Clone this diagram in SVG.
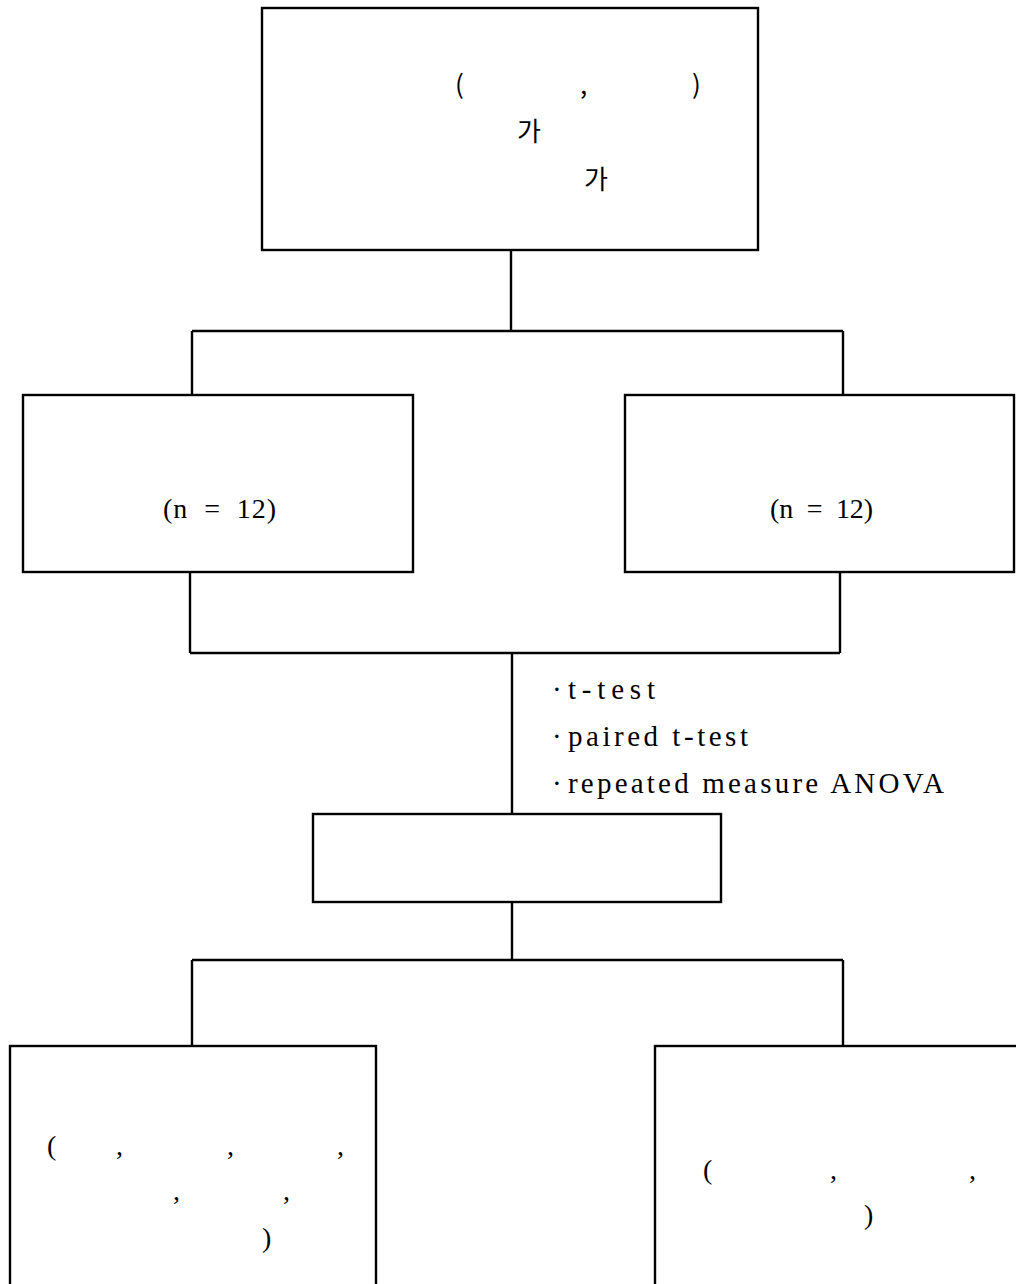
<svg xmlns="http://www.w3.org/2000/svg" width="1016" height="1284" viewBox="0 0 1016 1284">
<style>
.box{fill:#fff;stroke:#000;stroke-width:2.4}
.ln{stroke:#000;stroke-width:2.4;fill:none}
.s{font-family:"Liberation Serif","Times New Roman",serif;font-size:28px;fill:#000}
.k{font-family:"Noto Sans CJK KR","Noto Sans",sans-serif;font-size:26px;fill:#000}
.l{font-family:"Liberation Serif","Times New Roman",serif;font-size:29px;fill:#000}
</style>
<rect width="1016" height="1284" fill="#fff"/>
<g id="connectors">
<path class="ln" d="M511,250V331 M192,331H843 M192,331V395 M843,331V395"/>
<path class="ln" d="M190,572V653 M840,572V653 M190,653H840 M512,653V814"/>
<path class="ln" d="M512,902V960 M192,960H843 M192,960V1046 M843,960V1046"/>
<g id="stats-label">
<text class="l" x="552" y="699">·</text>
<text class="l" x="568" y="699" textLength="87" lengthAdjust="spacing">t-test</text>
<text class="l" x="552" y="746">·</text>
<text class="l" x="568" y="746" textLength="180" lengthAdjust="spacing">paired t-test</text>
<text class="l" x="552" y="793">·</text>
<text class="l" x="568" y="793" textLength="376" lengthAdjust="spacing">repeated measure ANOVA</text>
</g>
</g>
<g id="top">
<rect class="box" x="262" y="8" width="496" height="242"/>
<text class="k" x="455" y="94">(</text>
<text class="k" x="580" y="94">,</text>
<text class="k" x="692" y="94">)</text>
<text class="k" x="517" y="141">가</text>
<text class="k" x="584" y="189">가</text>
</g>
<g id="group-left">
<rect class="box" x="23" y="395" width="390" height="177"/>
<text class="s" x="163" y="518" textLength="113" lengthAdjust="spacing" xml:space="preserve">(n  =  12)</text>
</g>
<g id="group-right">
<rect class="box" x="625" y="395" width="389" height="177"/>
<text class="s" x="770" y="518" textLength="103" lengthAdjust="spacing" xml:space="preserve">(n  =  12)</text>
</g>
<g id="middle">
<rect class="box" x="313" y="814" width="408" height="88"/>
</g>
<g id="bottom-left">
<rect class="box" x="10" y="1046" width="366" height="260"/>
<text class="s" x="47" y="1155">(</text>
<text class="s" x="116" y="1155">,</text>
<text class="s" x="227" y="1155">,</text>
<text class="s" x="337" y="1155">,</text>
<text class="s" x="173" y="1200">,</text>
<text class="s" x="283" y="1200">,</text>
<text class="s" x="262" y="1247">)</text>
</g>
<g id="bottom-right">
<rect class="box" x="655" y="1046" width="400" height="260"/>
<text class="s" x="703" y="1179">(</text>
<text class="s" x="830" y="1179">,</text>
<text class="s" x="969" y="1179">,</text>
<text class="s" x="864" y="1224">)</text>
</g>
</svg>
